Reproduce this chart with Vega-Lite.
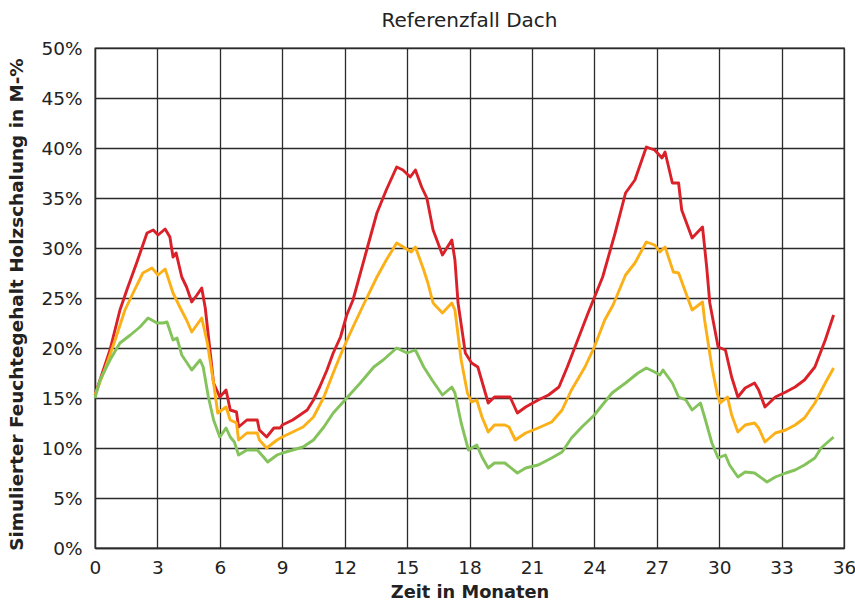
{
  "$schema": "https://vega.github.io/schema/vega-lite/v6.json",
  "width": 749,
  "height": 500,
  "autosize": {"type": "none"},
  "padding": {"left": 95, "top": 48, "right": 11, "bottom": 54},
  "background": "white",
  "config": {
    "font": "DejaVu Sans",
    "view": {"stroke": "#2b2b2b", "strokeWidth": 1.3},
    "axis": {
      "domainColor": "#2b2b2b", "domainWidth": 1.3,
      "gridColor": "#2b2b2b", "gridWidth": 1.3, "gridOpacity": 1,
      "ticks": false,
      "labelFont": "DejaVu Sans", "labelFontSize": 18.5, "labelColor": "#222",
      "titleFont": "DejaVu Sans", "titleFontWeight": "bold", "titleColor": "#222"
    }
  },
  "title": {"text": "Referenzfall Dach", "fontSize": 20, "fontWeight": "normal", "color": "#222", "font": "DejaVu Sans", "baseline": "bottom", "offset": 16, "dy": 28},
  "data": {"values": [
    {"m":0,"v":15.3,"s":"rot"},{"m":0.72,"v":19.8,"s":"rot"},{"m":1.2,"v":23.8,"s":"rot"},{"m":1.53,"v":25.8,"s":"rot"},{"m":2.0,"v":28.5,"s":"rot"},{"m":2.5,"v":31.5,"s":"rot"},{"m":2.8,"v":31.8,"s":"rot"},{"m":3.03,"v":31.3,"s":"rot"},{"m":3.37,"v":31.9,"s":"rot"},{"m":3.6,"v":31.1,"s":"rot"},{"m":3.75,"v":29.1,"s":"rot"},{"m":3.9,"v":29.5,"s":"rot"},{"m":4.17,"v":27.1,"s":"rot"},{"m":4.4,"v":26.1,"s":"rot"},{"m":4.65,"v":24.6,"s":"rot"},{"m":4.9,"v":25.3,"s":"rot"},{"m":5.13,"v":26.0,"s":"rot"},{"m":5.3,"v":24.0,"s":"rot"},{"m":5.7,"v":16.5,"s":"rot"},{"m":6.0,"v":15.1,"s":"rot"},{"m":6.3,"v":15.8,"s":"rot"},{"m":6.5,"v":13.8,"s":"rot"},{"m":6.8,"v":13.6,"s":"rot"},{"m":6.9,"v":12.1,"s":"rot"},{"m":7.3,"v":12.8,"s":"rot"},{"m":7.8,"v":12.8,"s":"rot"},{"m":7.9,"v":11.8,"s":"rot"},{"m":8.25,"v":11.1,"s":"rot"},{"m":8.6,"v":12.0,"s":"rot"},{"m":8.9,"v":12.0,"s":"rot"},{"m":9.0,"v":12.3,"s":"rot"},{"m":9.5,"v":12.8,"s":"rot"},{"m":9.85,"v":13.3,"s":"rot"},{"m":10.2,"v":13.8,"s":"rot"},{"m":10.5,"v":14.8,"s":"rot"},{"m":10.8,"v":16.1,"s":"rot"},{"m":11.15,"v":17.8,"s":"rot"},{"m":11.45,"v":19.5,"s":"rot"},{"m":11.8,"v":21.1,"s":"rot"},{"m":12.1,"v":23.3,"s":"rot"},{"m":12.4,"v":24.8,"s":"rot"},{"m":13.1,"v":30.1,"s":"rot"},{"m":13.55,"v":33.5,"s":"rot"},{"m":14.0,"v":35.8,"s":"rot"},{"m":14.5,"v":38.1,"s":"rot"},{"m":14.8,"v":37.8,"s":"rot"},{"m":15.15,"v":37.1,"s":"rot"},{"m":15.4,"v":37.8,"s":"rot"},{"m":15.7,"v":36.1,"s":"rot"},{"m":15.95,"v":35.0,"s":"rot"},{"m":16.25,"v":31.8,"s":"rot"},{"m":16.7,"v":29.3,"s":"rot"},{"m":17.15,"v":30.8,"s":"rot"},{"m":17.3,"v":28.8,"s":"rot"},{"m":17.45,"v":24.5,"s":"rot"},{"m":17.8,"v":19.5,"s":"rot"},{"m":18.1,"v":18.5,"s":"rot"},{"m":18.4,"v":18.1,"s":"rot"},{"m":18.65,"v":16.3,"s":"rot"},{"m":18.9,"v":14.5,"s":"rot"},{"m":19.2,"v":15.1,"s":"rot"},{"m":19.7,"v":15.1,"s":"rot"},{"m":19.95,"v":15.1,"s":"rot"},{"m":20.3,"v":13.5,"s":"rot"},{"m":20.7,"v":14.1,"s":"rot"},{"m":21.3,"v":14.8,"s":"rot"},{"m":21.8,"v":15.3,"s":"rot"},{"m":22.3,"v":16.1,"s":"rot"},{"m":22.7,"v":18.1,"s":"rot"},{"m":23.2,"v":20.8,"s":"rot"},{"m":23.7,"v":23.5,"s":"rot"},{"m":24.4,"v":27.1,"s":"rot"},{"m":25.0,"v":31.5,"s":"rot"},{"m":25.5,"v":35.5,"s":"rot"},{"m":25.95,"v":36.8,"s":"rot"},{"m":26.5,"v":40.1,"s":"rot"},{"m":26.9,"v":39.8,"s":"rot"},{"m":27.25,"v":39.0,"s":"rot"},{"m":27.4,"v":39.6,"s":"rot"},{"m":27.75,"v":36.5,"s":"rot"},{"m":28.05,"v":36.5,"s":"rot"},{"m":28.2,"v":33.8,"s":"rot"},{"m":28.7,"v":31.0,"s":"rot"},{"m":29.2,"v":32.1,"s":"rot"},{"m":29.4,"v":28.1,"s":"rot"},{"m":29.55,"v":24.5,"s":"rot"},{"m":29.95,"v":20.1,"s":"rot"},{"m":30.3,"v":19.8,"s":"rot"},{"m":30.6,"v":17.1,"s":"rot"},{"m":30.9,"v":15.1,"s":"rot"},{"m":31.25,"v":16.0,"s":"rot"},{"m":31.7,"v":16.5,"s":"rot"},{"m":31.9,"v":15.8,"s":"rot"},{"m":32.2,"v":14.1,"s":"rot"},{"m":32.7,"v":15.1,"s":"rot"},{"m":33.2,"v":15.6,"s":"rot"},{"m":33.65,"v":16.1,"s":"rot"},{"m":34.1,"v":16.8,"s":"rot"},{"m":34.6,"v":18.1,"s":"rot"},{"m":35.1,"v":20.8,"s":"rot"},{"m":35.5,"v":23.3,"s":"rot"},

    {"m":0,"v":15.3,"s":"gelb"},{"m":0.5,"v":18.0,"s":"gelb"},{"m":1.0,"v":21.0,"s":"gelb"},{"m":1.44,"v":23.8,"s":"gelb"},{"m":1.83,"v":25.5,"s":"gelb"},{"m":2.3,"v":27.5,"s":"gelb"},{"m":2.74,"v":28.0,"s":"gelb"},{"m":3.03,"v":27.3,"s":"gelb"},{"m":3.37,"v":27.9,"s":"gelb"},{"m":3.5,"v":27.1,"s":"gelb"},{"m":3.75,"v":25.5,"s":"gelb"},{"m":4.1,"v":24.0,"s":"gelb"},{"m":4.4,"v":22.8,"s":"gelb"},{"m":4.65,"v":21.6,"s":"gelb"},{"m":5.13,"v":23.0,"s":"gelb"},{"m":5.4,"v":20.5,"s":"gelb"},{"m":5.7,"v":16.5,"s":"gelb"},{"m":5.9,"v":13.5,"s":"gelb"},{"m":6.3,"v":14.1,"s":"gelb"},{"m":6.5,"v":12.8,"s":"gelb"},{"m":6.8,"v":12.5,"s":"gelb"},{"m":6.9,"v":10.8,"s":"gelb"},{"m":7.3,"v":11.5,"s":"gelb"},{"m":7.8,"v":11.5,"s":"gelb"},{"m":7.9,"v":10.8,"s":"gelb"},{"m":8.25,"v":10.0,"s":"gelb"},{"m":8.75,"v":10.8,"s":"gelb"},{"m":9.0,"v":11.1,"s":"gelb"},{"m":9.5,"v":11.6,"s":"gelb"},{"m":10.0,"v":12.1,"s":"gelb"},{"m":10.5,"v":13.1,"s":"gelb"},{"m":11.0,"v":15.1,"s":"gelb"},{"m":11.45,"v":17.5,"s":"gelb"},{"m":11.9,"v":19.8,"s":"gelb"},{"m":12.4,"v":22.1,"s":"gelb"},{"m":12.9,"v":24.3,"s":"gelb"},{"m":13.55,"v":27.1,"s":"gelb"},{"m":14.0,"v":28.8,"s":"gelb"},{"m":14.5,"v":30.5,"s":"gelb"},{"m":14.9,"v":30.0,"s":"gelb"},{"m":15.2,"v":29.6,"s":"gelb"},{"m":15.4,"v":30.1,"s":"gelb"},{"m":15.8,"v":27.8,"s":"gelb"},{"m":16.0,"v":26.5,"s":"gelb"},{"m":16.25,"v":24.5,"s":"gelb"},{"m":16.7,"v":23.5,"s":"gelb"},{"m":17.15,"v":24.5,"s":"gelb"},{"m":17.3,"v":23.8,"s":"gelb"},{"m":17.6,"v":18.8,"s":"gelb"},{"m":17.9,"v":15.5,"s":"gelb"},{"m":18.1,"v":14.6,"s":"gelb"},{"m":18.35,"v":14.8,"s":"gelb"},{"m":18.6,"v":13.1,"s":"gelb"},{"m":18.9,"v":11.6,"s":"gelb"},{"m":19.2,"v":12.3,"s":"gelb"},{"m":19.7,"v":12.3,"s":"gelb"},{"m":19.9,"v":12.1,"s":"gelb"},{"m":20.2,"v":10.8,"s":"gelb"},{"m":20.7,"v":11.5,"s":"gelb"},{"m":21.3,"v":12.0,"s":"gelb"},{"m":21.95,"v":12.6,"s":"gelb"},{"m":22.45,"v":13.8,"s":"gelb"},{"m":22.9,"v":15.8,"s":"gelb"},{"m":23.55,"v":18.1,"s":"gelb"},{"m":24.0,"v":20.1,"s":"gelb"},{"m":24.5,"v":22.8,"s":"gelb"},{"m":24.9,"v":24.3,"s":"gelb"},{"m":25.5,"v":27.3,"s":"gelb"},{"m":25.95,"v":28.5,"s":"gelb"},{"m":26.5,"v":30.6,"s":"gelb"},{"m":26.9,"v":30.3,"s":"gelb"},{"m":27.15,"v":29.6,"s":"gelb"},{"m":27.4,"v":30.1,"s":"gelb"},{"m":27.8,"v":27.6,"s":"gelb"},{"m":28.05,"v":27.5,"s":"gelb"},{"m":28.4,"v":25.5,"s":"gelb"},{"m":28.7,"v":23.8,"s":"gelb"},{"m":29.2,"v":24.6,"s":"gelb"},{"m":29.3,"v":22.8,"s":"gelb"},{"m":29.65,"v":18.1,"s":"gelb"},{"m":29.9,"v":15.5,"s":"gelb"},{"m":30.05,"v":14.5,"s":"gelb"},{"m":30.4,"v":15.1,"s":"gelb"},{"m":30.6,"v":13.3,"s":"gelb"},{"m":30.9,"v":11.6,"s":"gelb"},{"m":31.25,"v":12.3,"s":"gelb"},{"m":31.7,"v":12.5,"s":"gelb"},{"m":31.9,"v":12.0,"s":"gelb"},{"m":32.2,"v":10.6,"s":"gelb"},{"m":32.7,"v":11.5,"s":"gelb"},{"m":33.2,"v":11.8,"s":"gelb"},{"m":33.65,"v":12.3,"s":"gelb"},{"m":34.1,"v":13.0,"s":"gelb"},{"m":34.6,"v":14.5,"s":"gelb"},{"m":35.1,"v":16.5,"s":"gelb"},{"m":35.5,"v":18.0,"s":"gelb"},

    {"m":0,"v":15.0,"s":"grün"},{"m":0.24,"v":16.8,"s":"grün"},{"m":0.72,"v":18.8,"s":"grün"},{"m":1.2,"v":20.5,"s":"grün"},{"m":1.7,"v":21.3,"s":"grün"},{"m":2.16,"v":22.1,"s":"grün"},{"m":2.55,"v":23.0,"s":"grün"},{"m":2.98,"v":22.5,"s":"grün"},{"m":3.27,"v":22.5,"s":"grün"},{"m":3.46,"v":22.6,"s":"grün"},{"m":3.75,"v":20.8,"s":"grün"},{"m":3.94,"v":21.0,"s":"grün"},{"m":4.17,"v":19.3,"s":"grün"},{"m":4.65,"v":17.8,"s":"grün"},{"m":5.05,"v":18.8,"s":"grün"},{"m":5.2,"v":18.1,"s":"grün"},{"m":5.45,"v":15.1,"s":"grün"},{"m":5.7,"v":12.8,"s":"grün"},{"m":6.0,"v":11.1,"s":"grün"},{"m":6.3,"v":12.0,"s":"grün"},{"m":6.5,"v":11.1,"s":"grün"},{"m":6.7,"v":10.6,"s":"grün"},{"m":6.9,"v":9.3,"s":"grün"},{"m":7.3,"v":9.8,"s":"grün"},{"m":7.8,"v":9.8,"s":"grün"},{"m":8.1,"v":9.1,"s":"grün"},{"m":8.3,"v":8.6,"s":"grün"},{"m":8.75,"v":9.3,"s":"grün"},{"m":9.0,"v":9.5,"s":"grün"},{"m":9.5,"v":9.8,"s":"grün"},{"m":10.0,"v":10.1,"s":"grün"},{"m":10.5,"v":10.8,"s":"grün"},{"m":11.0,"v":12.1,"s":"grün"},{"m":11.45,"v":13.5,"s":"grün"},{"m":12.1,"v":15.0,"s":"grün"},{"m":12.75,"v":16.5,"s":"grün"},{"m":13.4,"v":18.1,"s":"grün"},{"m":13.85,"v":18.8,"s":"grün"},{"m":14.5,"v":20.0,"s":"grün"},{"m":15.0,"v":19.5,"s":"grün"},{"m":15.4,"v":19.8,"s":"grün"},{"m":15.8,"v":18.1,"s":"grün"},{"m":16.2,"v":16.8,"s":"grün"},{"m":16.7,"v":15.3,"s":"grün"},{"m":17.15,"v":16.1,"s":"grün"},{"m":17.3,"v":15.5,"s":"grün"},{"m":17.6,"v":12.5,"s":"grün"},{"m":17.95,"v":9.8,"s":"grün"},{"m":18.35,"v":10.3,"s":"grün"},{"m":18.6,"v":9.1,"s":"grün"},{"m":18.9,"v":8.0,"s":"grün"},{"m":19.2,"v":8.5,"s":"grün"},{"m":19.7,"v":8.5,"s":"grün"},{"m":20.3,"v":7.5,"s":"grün"},{"m":20.7,"v":8.0,"s":"grün"},{"m":21.3,"v":8.3,"s":"grün"},{"m":21.95,"v":9.0,"s":"grün"},{"m":22.45,"v":9.6,"s":"grün"},{"m":22.9,"v":11.0,"s":"grün"},{"m":23.4,"v":12.1,"s":"grün"},{"m":24.0,"v":13.3,"s":"grün"},{"m":24.85,"v":15.5,"s":"grün"},{"m":25.5,"v":16.5,"s":"grün"},{"m":26.1,"v":17.5,"s":"grün"},{"m":26.5,"v":18.0,"s":"grün"},{"m":26.9,"v":17.6,"s":"grün"},{"m":27.15,"v":17.3,"s":"grün"},{"m":27.3,"v":17.8,"s":"grün"},{"m":27.75,"v":16.5,"s":"grün"},{"m":28.05,"v":15.1,"s":"grün"},{"m":28.4,"v":14.8,"s":"grün"},{"m":28.7,"v":13.8,"s":"grün"},{"m":29.1,"v":14.5,"s":"grün"},{"m":29.3,"v":13.1,"s":"grün"},{"m":29.65,"v":10.5,"s":"grün"},{"m":29.95,"v":9.0,"s":"grün"},{"m":30.3,"v":9.3,"s":"grün"},{"m":30.5,"v":8.3,"s":"grün"},{"m":30.9,"v":7.1,"s":"grün"},{"m":31.25,"v":7.6,"s":"grün"},{"m":31.7,"v":7.5,"s":"grün"},{"m":32.3,"v":6.6,"s":"grün"},{"m":32.7,"v":7.1,"s":"grün"},{"m":33.2,"v":7.5,"s":"grün"},{"m":33.65,"v":7.8,"s":"grün"},{"m":34.1,"v":8.3,"s":"grün"},{"m":34.6,"v":9.0,"s":"grün"},{"m":34.9,"v":10.0,"s":"grün"},{"m":35.5,"v":11.1,"s":"grün"}
  ]},
  "mark": {"type": "line", "strokeWidth": 2.9, "strokeJoin": "round"},
  "encoding": {
    "x": {"field": "m", "type": "quantitative", "title": "Zeit in Monaten",
      "scale": {"domain": [0, 36], "nice": false},
      "axis": {"values": [0,3,6,9,12,15,18,21,24,27,30,33,36], "labelPadding": 10, "titleY": 35, "titleFontSize": 17.8, "labelFlush": false}},
    "y": {"field": "v", "type": "quantitative", "title": "Simulierter Feuchtegehalt Holzschalung in M-%",
      "scale": {"domain": [0, 50], "nice": false},
      "axis": {"values": [0,5,10,15,20,25,30,35,40,45,50], "labelExpr": "datum.value + '%'", "labelPadding": 13, "titleFontSize": 18.4, "titleX": -69, "titleY": 256}},
    "color": {"field": "s", "type": "nominal", "legend": null,
      "scale": {"domain": ["rot", "gelb", "grün"], "range": ["#da2129", "#fcb017", "#84c35b"]}},
    "order": {"field": "m", "type": "quantitative"}
  }
}
